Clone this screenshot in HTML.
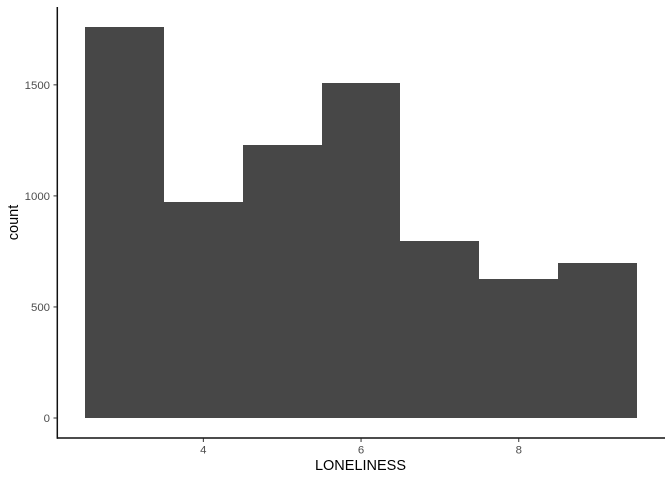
<!DOCTYPE html>
<html>
<head>
<meta charset="utf-8">
<style>
html,body{margin:0;padding:0;background:#fff;width:672px;height:480px;overflow:hidden}
svg{display:block}
text{font-family:"Liberation Sans",Arial,sans-serif}
</style>
</head>
<body>
<svg id="chart" width="672" height="480" viewBox="0 0 672 480" xmlns="http://www.w3.org/2000/svg"></svg>
<script>
const binCenters = [3, 4, 5, 6, 7, 8, 9];
const binCounts = [1761, 972, 1228, 1507, 797, 626, 698];
const binWidth = 1;
const xTickValues = [4, 6, 8];
const yTickValues = [0, 500, 1000, 1500];

const svg = document.getElementById('chart');
const NS = 'http://www.w3.org/2000/svg';
const xScale = v => 203.35 + (v - 4) * 78.85;
const yScale = v => 418 - v * 0.2221;

function make(tag, attrs, parent) {
  const el = document.createElementNS(NS, tag);
  for (const k in attrs) el.setAttribute(k, attrs[k]);
  (parent || svg).appendChild(el);
  return el;
}

binCenters.forEach((c, i) => {
  const x0 = Math.round(xScale(c - binWidth / 2));
  const x1 = Math.round(xScale(c + binWidth / 2));
  const y1 = Math.round(yScale(binCounts[i]));
  const rect = make('rect', {x: x0, y: y1, width: x1 - x0, height: Math.round(yScale(0)) - y1, fill: '#474747', 'shape-rendering': 'crispEdges'});
  
  
});

const yAxis = make('line', {x1: 57.3, x2: 57.3, y1: 7, y2: 438.8, stroke: '#111111', 'stroke-width': 1.5});



const xAxis = make('line', {x1: 57, x2: 665, y1: 438, y2: 438, stroke: '#111111', 'stroke-width': 1.5});



yTickValues.forEach(v => {
  const y = yScale(v);
  const tick = make('line', {x1: 53.5, x2: 57, y1: y, y2: y, stroke: '#333333', 'stroke-width': 1});
  
  
  const label = make('text', {x: 50, y: y + 4, 'text-anchor': 'end', 'font-size': 11.4, fill: '#4d4d4d'});
  label.textContent = v;
  
  
});

xTickValues.forEach(v => {
  const x = xScale(v);
  const tick = make('line', {x1: x, x2: x, y1: 438.5, y2: 442, stroke: '#333333', 'stroke-width': 1});
  
  
  const label = make('text', {x: x, y: 453.5, 'text-anchor': 'middle', 'font-size': 11.4, fill: '#4d4d4d'});
  label.textContent = v;
  
  
});

const xTitle = make('text', {x: 360.5, y: 470, 'text-anchor': 'middle', 'font-size': 14.5, fill: '#000000'});
xTitle.textContent = 'LONELINESS';



const yTitle = make('text', {x: 0, y: 0, 'text-anchor': 'middle', 'font-size': 14.5, fill: '#000000', transform: 'translate(18,222.5) rotate(-90)'});
yTitle.textContent = 'count';


</script>
</body>
</html>
